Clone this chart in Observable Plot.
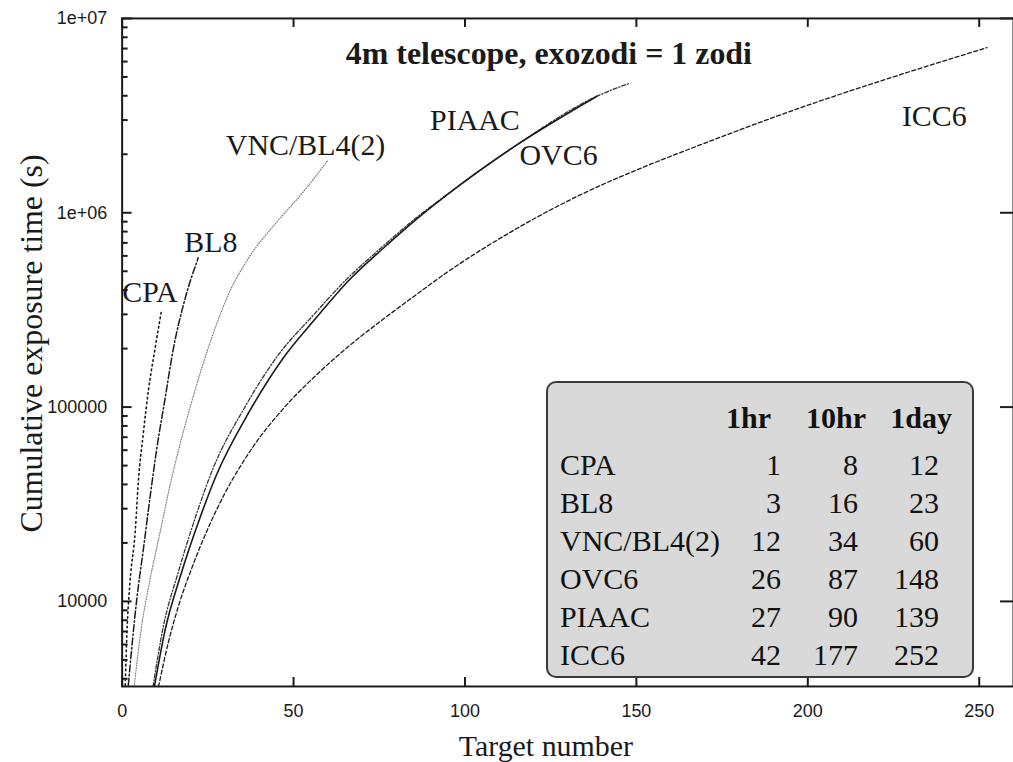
<!DOCTYPE html>
<html><head><meta charset="utf-8">
<script src="https://cdn.jsdelivr.net/npm/d3@7"></script>
<script src="https://cdn.jsdelivr.net/npm/@observablehq/plot@0.6"></script>
<style>
html,body{margin:0;padding:0;background:#fff;overflow:hidden;}
#wrap{position:relative;width:1013px;height:762px;overflow:hidden;}
#table{position:absolute;left:546px;top:381px;width:428px;height:297px;box-sizing:border-box;border:2px solid #3a3a3a;border-radius:10px;background:#d9d9d9;font-family:"Liberation Serif",serif;font-size:30px;color:#111;}
#table span{position:absolute;line-height:1;white-space:nowrap;}
#table span.h{font-weight:bold;}
</style></head><body><div id="wrap"></div>
<script>
// ---- data: [target number, cumulative exposure time (s)] ----
const CPA = [[0.9,3700],[1.4,6900],[2.3,12600],[3.8,22700],[4.7,40700],[6.2,74000],[7.7,123000],[9.6,200000],[11.5,316000]];
const BL8 = [[1.8,3700],[2.8,5750],[4.3,10350],[6.2,18600],[8.1,33900],[10.1,61000],[12.5,110000],[14.9,198000],[18.3,358000],[22.2,586000]];
const VNC = [[3.5,3630],[5.5,7080],[8,12600],[11,22400],[14,39800],[17.5,70800],[21.5,126000],[26,224000],[31,380000],[37,589000],[45,891000],[52,1230000],[60,1860000]];
const PIAAC = [[9.4,3630],[12.5,7080],[17,13500],[22.5,26300],[27.5,44700],[37.2,95500],[46.9,178000],[56.6,288000],[66.3,452000],[76,653000],[85.7,923000],[95.3,1260000],[114.7,2210000],[138.5,3980000]];
const OVC6 = [[9.0,3630],[12,7410],[16.3,14000],[21.5,27500],[26.2,46800],[35.8,100000],[45.6,186000],[55.6,295000],[65.6,457000],[75.6,661000],[85.5,933000],[95.3,1260000],[114.7,2210000],[138.5,3980000],[147.7,4620000]];
const ICC6 = [[10.6,3630],[13.5,6170],[16.5,9550],[20.3,14800],[27.5,29500],[37.2,58900],[46.9,97700],[56.6,146000],[66.3,207000],[76,282000],[85.7,378000],[95.3,501000],[114.7,822000],[134,1245000],[153.5,1758000],[168,2213000],[197,3428000],[226,5070000],[252.3,7080000]];

// curve labels (data coordinates)
const labelNames = ["CPA","BL8","VNC/BL4(2)","PIAAC","OVC6","ICC6"];
const labelX = [8.1, 25.9, 53.5, 102.9, 127.3, 236.9];
const labelY = [389000, 702000, 2230000, 3000000, 1980000, 3140000];

// axis ticks
const xTicks = [0, 50, 100, 150, 200, 250];
const yMajor = [1e4, 1e5, 1e6, 1e7];
const yMajorLabels = ["10000", "100000", "1e+06", "1e+07"];
const yMinor = [4000,5000,6000,7000,8000,9000,20000,30000,40000,50000,60000,70000,80000,90000,
  200000,300000,400000,500000,600000,700000,800000,900000,2e6,3e6,4e6,5e6,6e6,7e6,8e6,9e6];

// table
const tableNames = ["CPA","BL8","VNC/BL4(2)","OVC6","PIAAC","ICC6"];
const tableHeaders = ["1hr","10hr","1day"];
const hr1 = [1, 3, 12, 26, 27, 42];
const hr10 = [8, 16, 34, 87, 90, 177];
const day1 = [12, 23, 60, 148, 139, 252];

const toRows = a => a.map(([x, y]) => ({x, y}));
const labels = labelNames.map((t, i) => ({t, x: labelX[i], y: labelY[i]}));

const FW = 1016 - 122, FH = 762 - 18 - 74;
const ink = "#1a1a1a";
const serif = "Liberation Serif";
const sans = "Liberation Sans";
const crv = "monotone-x";

const chart = Plot.plot({
  width: 1016, height: 762,
  marginLeft: 122, marginRight: 0, marginTop: 18, marginBottom: 74,
  x: {domain: [0, 260]},
  y: {type: "log", domain: [3650, 1e7]},
  style: {fontFamily: serif, background: "white", color: ink, overflow: "visible"},
  marks: [
    Plot.axisX({ticks: xTicks, tickSize: 0, tickPadding: 18, fontSize: 18, fontFamily: sans, label: null, tickFormat: d => String(d)}),
    Plot.axisY({ticks: yMajor, tickSize: 0, tickPadding: 15, fontSize: 18, fontFamily: sans, label: null, tickFormat: d => yMajorLabels[yMajor.indexOf(d)]}),
    // inward ticks
    Plot.tickX(xTicks, {x: d => d, insetTop: FH - 9, stroke: ink, strokeWidth: 2}),
    Plot.tickX(xTicks, {x: d => d, insetBottom: FH - 9, stroke: ink, strokeWidth: 2}),
    Plot.tickY(yMajor, {y: d => d, insetRight: FW - 10, stroke: ink, strokeWidth: 2}),
    Plot.tickY(yMinor, {y: d => d, insetRight: FW - 6, stroke: ink, strokeWidth: 2}),
    Plot.tickY(yMajor, {y: d => d, insetLeft: FW - 13, stroke: ink, strokeWidth: 2}),
    // curves
    Plot.line(toRows(VNC), {x: "x", y: "y", stroke: "#777", strokeWidth: 1.1, strokeDasharray: "1,1.6", curve: crv, clip: true}),
    Plot.line(toRows(CPA), {x: "x", y: "y", stroke: ink, strokeWidth: 1.6, strokeDasharray: "1.6,3.2", curve: crv, clip: true}),
    Plot.line(toRows(BL8), {x: "x", y: "y", stroke: ink, strokeWidth: 1.5, strokeDasharray: "7,2.5,1.5,2.5", curve: crv, clip: true}),
    Plot.line(toRows(ICC6), {x: "x", y: "y", stroke: ink, strokeWidth: 1.3, strokeDasharray: "4,2.5", curve: crv, clip: true}),
    Plot.line(toRows(OVC6), {x: "x", y: "y", stroke: "#333", strokeWidth: 1.3, strokeDasharray: "4,2,1.2,2", curve: crv, clip: true}),
    Plot.line(toRows(PIAAC), {x: "x", y: "y", stroke: ink, strokeWidth: 1.6, curve: crv, clip: true}),
    // curve labels
    Plot.text(labels, {x: "x", y: "y", text: "t", fontSize: 30, fontFamily: serif, fill: ink}),
    // title & axis labels
    Plot.text(["4m telescope, exozodi = 1 zodi"], {frameAnchor: "top", lineAnchor: "middle", dx: -19, dy: 35, fontSize: 32, fontWeight: "bold", fontFamily: serif, fill: ink}),
    Plot.text(["Target number"], {frameAnchor: "bottom", lineAnchor: "middle", dx: -22, dy: 60, fontSize: 30, fontFamily: serif, fill: ink}),
    Plot.text(["Cumulative exposure time (s)"], {frameAnchor: "left", textAnchor: "middle", lineAnchor: "middle", dx: -91, dy: -9, rotate: -90, fontSize: 32, fontFamily: serif, fill: ink}),
    Plot.frame({stroke: ink, strokeWidth: 2})
  ]
});
const wrap = document.getElementById("wrap");
wrap.appendChild(chart);

// table overlay (legend-style box)
const box = document.createElement("div");
box.id = "table";
const add = (txt, cls, style) => {
  const s = document.createElement("span");
  s.textContent = txt;
  if (cls) s.className = cls;
  Object.assign(s.style, style);
  box.appendChild(s);
};
const hdrRight = [201, 106, 20];
const colRight = [191, 114, 33];
tableHeaders.forEach((h, j) => add(h, "h", {right: hdrRight[j] + "px", top: "20px"}));
tableNames.forEach((n, i) => {
  const top = (67 + i * 38) + "px";
  add(n, "", {left: "12px", top});
  [hr1, hr10, day1].forEach((col, j) => add(String(col[i]), "", {right: colRight[j] + "px", top}));
});
wrap.appendChild(box);
</script>
</body></html>
